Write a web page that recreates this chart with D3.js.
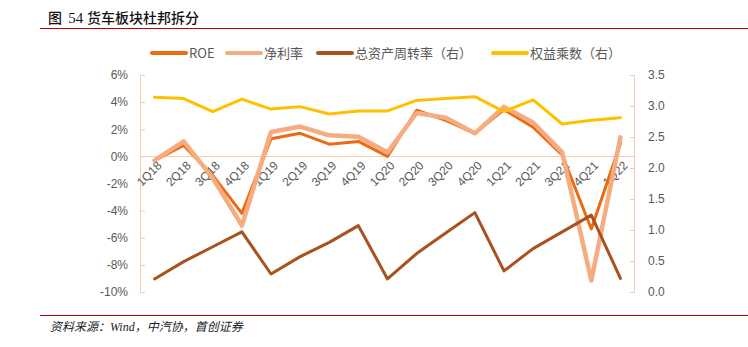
<!DOCTYPE html>
<html><head><meta charset="utf-8">
<script src="https://cdn.jsdelivr.net/npm/d3@7"></script>
<style>body{margin:0;background:#fff;} svg{display:block;font-family:"Noto Sans CJK SC","Liberation Sans",sans-serif;}</style>
</head><body><svg id="c" width="748" height="347"></svg>
<script>
const categories = ["1Q18","2Q18","3Q18","4Q18","1Q19","2Q19","3Q19","4Q19","1Q20","2Q20","3Q20","4Q20","1Q21","2Q21","3Q21","4Q21","1Q22"];
const roe = [-0.3,0.8,-1.4,-4.2,1.3,1.7,0.9,1.1,0.0,3.4,2.65,1.7,3.45,2.15,0.1,-5.35,0.95];
const netMargin = [-0.3,1.1,-1.6,-5.1,1.8,2.2,1.55,1.45,0.3,3.2,2.85,1.7,3.65,2.5,0.3,-9.15,1.4];
const assetTurnover = [0.21,0.49,0.73,0.97,0.29,0.57,0.80,1.07,0.21,0.62,0.95,1.28,0.34,0.70,0.97,1.24,0.22];
const equityMult = [3.14,3.12,2.91,3.11,2.95,2.99,2.87,2.92,2.92,3.09,3.12,3.15,2.91,3.10,2.71,2.77,2.81];
const leftTicks = [6,4,2,0,-2,-4,-6,-8,-10];
const rightTicks = [3.5,3.0,2.5,2.0,1.5,1.0,0.5,0.0];

const svg = d3.select("#c");
const x = d3.scaleBand().domain(categories).range([140,635]);
const yL = d3.scaleLinear().domain([-10,6]).range([292,75]);
const yR = d3.scaleLinear().domain([0,3.5]).range([292,75]);
const axisCol = "#F8CBAD", txtCol = "#595959";

// title
const t = svg.append("text").attr("x",48).attr("y",23).attr("font-size",14).attr("fill","#111").attr("font-weight","500").style("white-space","pre");
t.append("tspan").text("图  ");
t.append("tspan").attr("font-family","Liberation Serif, serif").attr("font-size",15).text("54 ");
t.append("tspan").text("货车板块杜邦拆分");
svg.append("line").attr("x1",40).attr("x2",748).attr("y1",28.5).attr("y2",28.5).attr("stroke","#C00000").attr("stroke-width",1);
svg.append("line").attr("x1",40).attr("x2",748).attr("y1",315.5).attr("y2",315.5).attr("stroke","#C00000").attr("stroke-width",1);
svg.append("text").attr("x",50).attr("y",331).attr("font-size",12).attr("font-style","italic").attr("fill","#222")
  .attr("font-family","Liberation Serif, 'Noto Sans CJK SC', serif").text("资料来源：Wind，中汽协，首创证券");

// axes
const gl = svg.append("g").attr("transform","translate(140,0)")
  .call(d3.axisRight(yL).tickValues(leftTicks).tickSize(5).tickFormat(d=>d+"%"));
gl.select(".domain").attr("stroke",axisCol).attr("d","M0.5,75V292");
gl.selectAll(".tick line").attr("stroke",axisCol);
gl.selectAll(".tick text").attr("x",-12).attr("text-anchor","end").attr("fill",txtCol).attr("font-size",12).attr("font-family","Liberation Sans, Arial, sans-serif");

const gr = svg.append("g").attr("transform","translate(635,0)")
  .call(d3.axisLeft(yR).tickValues(rightTicks).tickSize(5).tickFormat(d3.format(".1f")));
gr.select(".domain").attr("stroke",axisCol).attr("d","M-0.5,75V292");
gr.selectAll(".tick line").attr("stroke",axisCol);
gr.selectAll(".tick text").attr("x",13).attr("text-anchor","start").attr("fill",txtCol).attr("font-size",12).attr("font-family","Liberation Sans, Arial, sans-serif");

// zero line
svg.append("line").attr("x1",140).attr("x2",635).attr("y1",Math.round(yL(0))+0.5).attr("y2",Math.round(yL(0))+0.5).attr("stroke",axisCol).attr("stroke-width",1);

// x labels
const cx = d => x(d)+x.bandwidth()/2;
svg.append("g").selectAll("text").data(categories).join("text")
  .attr("transform",d=>`translate(${cx(d)+5},${yL(0)+7}) rotate(-45)`)
  .attr("text-anchor","end").attr("dy","0.35em")
  .attr("font-size",12).attr("fill",txtCol).attr("font-family","Liberation Sans, Arial, sans-serif")
  .text(d=>d);

// lines
const series = [
  {name:"ROE", data:roe, y:yL, color:"#EB6A12", w:3},
  {name:"净利率", data:netMargin, y:yL, color:"#F4AC80", w:4.5},
  {name:"总资产周转率（右）", data:assetTurnover, y:yR, color:"#A8521E", w:3},
  {name:"权益乘数（右）", data:equityMult, y:yR, color:"#FFC000", w:3}
];
series.forEach(s=>{
  const line = d3.line().x((d,i)=>cx(categories[i])).y(d=>s.y(d));
  svg.append("path").attr("d",line(s.data)).attr("fill","none").attr("stroke",s.color).attr("stroke-width",s.w).attr("stroke-linejoin","round").attr("stroke-linecap","round");
});

// legend
const lx = [152,227,318,493];
series.forEach((s,i)=>{
  svg.append("line").attr("x1",lx[i]).attr("x2",lx[i]+34).attr("y1",53).attr("y2",53).attr("stroke",s.color).attr("stroke-width",4).attr("stroke-linecap","round");
  svg.append("text").attr("x",lx[i]+37).attr("y",57.5).attr("font-size",13).attr("fill",txtCol).text(s.name);
});
</script></body></html>
